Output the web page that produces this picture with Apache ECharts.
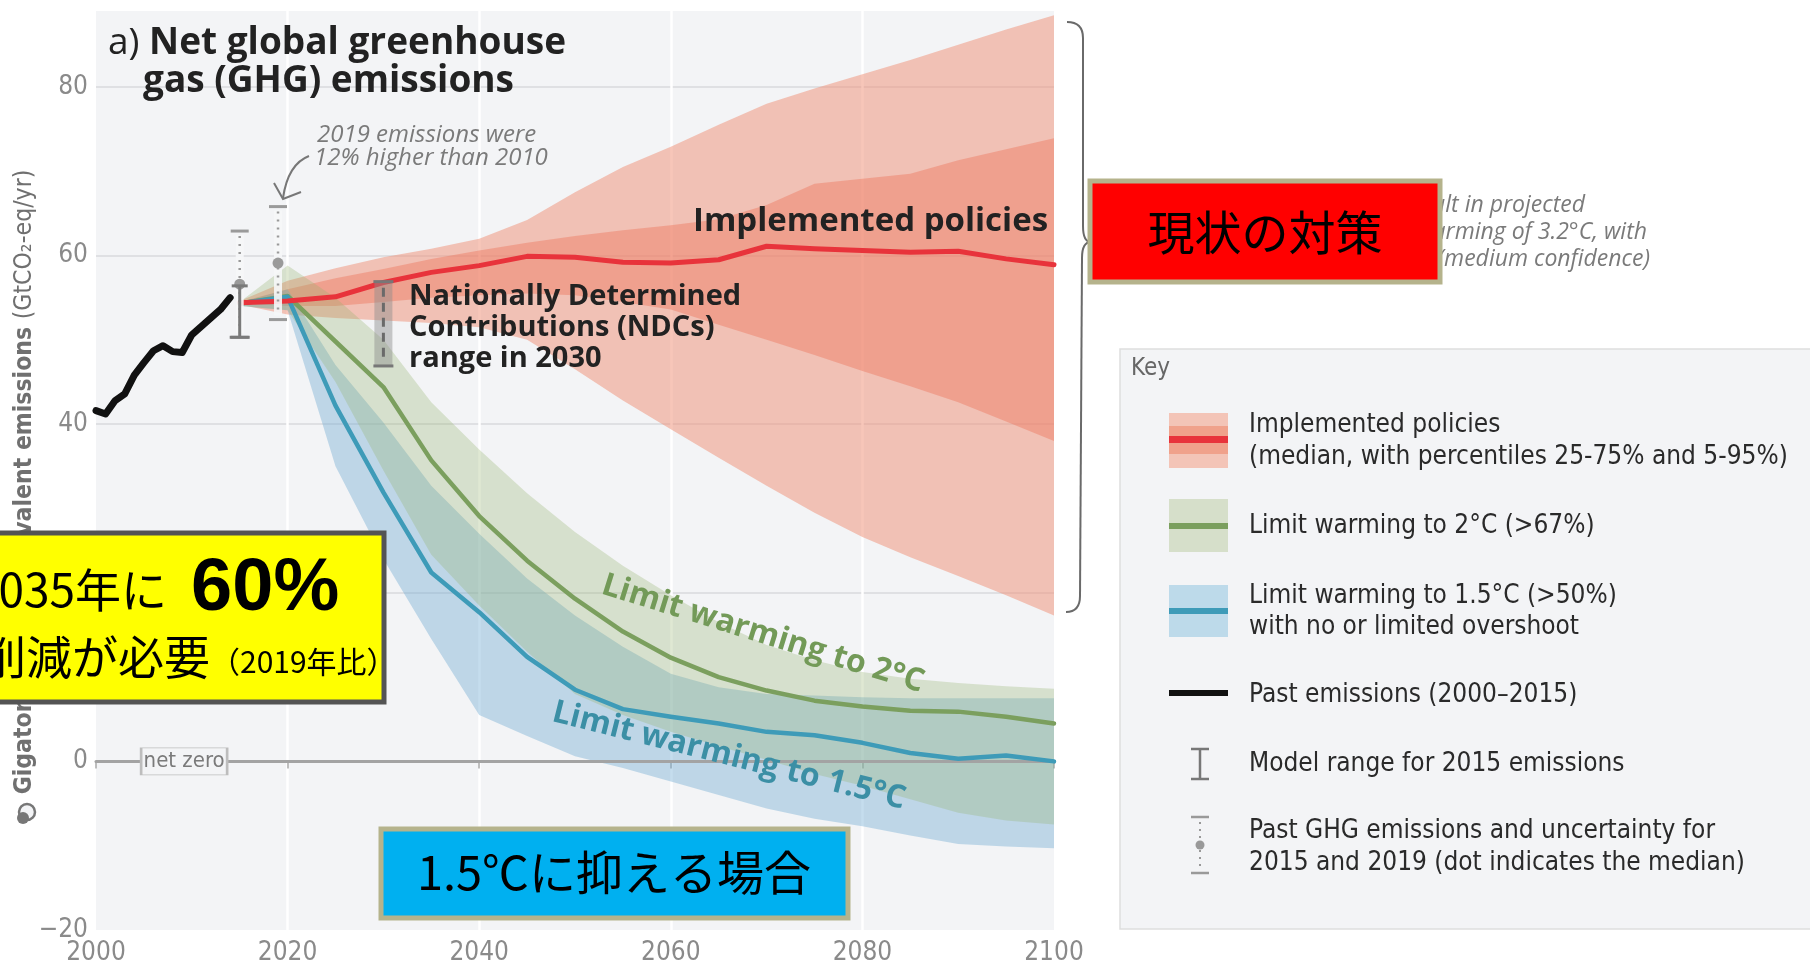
<!DOCTYPE html>
<html>
<head>
<meta charset="utf-8">
<title>Net global greenhouse gas (GHG) emissions</title>
<script src="https://cdn.jsdelivr.net/npm/echarts@6/dist/echarts.min.js"></script>
<style>
  html, body { margin: 0; padding: 0; background: #fff; }
  #main { width: 1810px; height: 969px; }
</style>
</head>
<body>
<div id="main"></div>
<script>
// --- data ---
const years = [2015, 2020, 2025, 2030, 2035, 2040, 2045, 2050, 2055, 2060, 2065, 2070, 2075, 2080, 2085, 2090, 2095, 2100];

// implemented policies: median + percentiles
const redP05 = [54.2, 53.0, 52.6, 52.3, 52.0, 51.5, 50.0, 46.5, 42.8, 39.4, 36.0, 32.7, 29.5, 26.6, 24.2, 22.0, 19.7, 17.3];
const redP25 = [54.3, 54.0, 54.0, 54.5, 55.0, 55.3, 55.5, 55.3, 54.5, 53.6, 51.8, 50.0, 48.2, 46.3, 44.5, 42.6, 40.3, 38.0];
const redMed = [54.4, 54.6, 55.1, 56.8, 58.0, 58.8, 59.9, 59.8, 59.2, 59.1, 59.5, 61.1, 60.8, 60.6, 60.4, 60.5, 59.6, 58.9];
const redP75 = [54.5, 56.0, 57.3, 58.4, 59.6, 60.6, 61.5, 62.3, 63.0, 63.6, 64.3, 66.0, 68.5, 69.1, 69.7, 71.3, 72.6, 73.9];
const redP95 = [54.6, 57.0, 58.5, 59.8, 60.8, 62.0, 64.2, 67.5, 70.5, 72.9, 75.5, 78.0, 79.8, 81.5, 83.2, 85.0, 86.8, 88.5];

// limit warming to 2°C
const greenLo  = [54.0, 53.5, 45.0, 34.5, 24.5, 18.5, 13.0, 8.0, 5.5, 3.5, 1.8, 0.2, -1.5, -2.9, -4.5, -6.1, -7.0, -7.5];
const greenMed = [54.3, 55.2, 49.8, 44.4, 35.7, 29.1, 23.8, 19.3, 15.4, 12.3, 10.0, 8.4, 7.2, 6.5, 6.0, 5.9, 5.3, 4.5];
const greenHi  = [54.5, 58.8, 55.0, 50.0, 42.6, 37.0, 31.8, 27.2, 23.2, 19.7, 16.5, 13.8, 12.0, 10.6, 9.8, 9.3, 8.9, 8.6];

// limit warming to 1.5°C
const blueLo  = [54.0, 53.5, 35.0, 24.0, 14.5, 5.5, 3.0, 0.6, -0.8, -2.4, -4.0, -5.6, -6.8, -7.7, -8.8, -9.8, -10.1, -10.3];
const blueMed = [54.3, 55.1, 42.2, 31.9, 22.4, 17.7, 12.4, 8.5, 6.2, 5.3, 4.5, 3.5, 3.1, 2.2, 1.0, 0.3, 0.7, 0.0];
const blueHi  = [54.4, 56.0, 47.0, 40.2, 32.7, 27.0, 21.7, 17.3, 13.6, 10.4, 8.8, 8.0, 7.8, 7.6, 7.5, 7.5, 7.5, 7.5];

// past emissions 2000-2015
const pastYears = [2000, 2001, 2002, 2003, 2004, 2005, 2006, 2007, 2008, 2009, 2010, 2011, 2012, 2013, 2014];
const pastEm = [41.6, 41.2, 42.8, 43.6, 45.8, 47.3, 48.7, 49.3, 48.6, 48.5, 50.6, 51.6, 52.6, 53.6, 55.0];

// uncertainty bars: [year, low, median, high]
const pastRange = [[2015, 50.3, 56.6, 62.9], [2019, 52.4, 59.1, 65.8]];
const modelRange = [[2015, 50.3, 56.4]];
const ndcRange = [[2030, 46.9, 56.9]];

const netZero = [[2000, 0], [2100, 0]];

// axis ticks
const xTicks = { min: 2000, max: 2100, step: 20 };
const yTicks = { min: -20, max: 89, step: 20 };

// --- fonts ---
const NARROW = '"Liberation Sans Narrow", "DejaVu Sans Condensed", sans-serif';
const BOLD = '"Open Sans", Lato, sans-serif';
const HAND = '"Open Sans", "DejaVu Sans", sans-serif';
const JP = '"Noto Sans CJK JP", sans-serif';

const myChart = echarts.init(document.getElementById('main'));

// 帯（上下の線で囲んだ多角形）
function band(name, lo, hi, color) {
  return {
    type: 'custom',
    name: name,
    silent: true,
    z: 2,
    encode: { x: 0, y: [1, 2] },
    data: years.map((y, i) => [y, lo[i], hi[i]]),
    renderItem: function (params, api) {
      if (params.dataIndex !== 0) return null;
      const top = years.map((y, i) => api.coord([y, hi[i]]));
      const bot = years.map((y, i) => api.coord([y, lo[i]])).reverse();
      return { type: 'polygon', shape: { points: top.concat(bot) }, style: { fill: color } };
    }
  };
}

function line(name, xs, ys, color, width, z) {
  return {
    type: 'line',
    name: name,
    silent: true,
    z: z,
    showSymbol: false,
    symbol: 'none',
    data: xs.map((x, i) => [x, ys[i]]),
    lineStyle: { color: color, width: width, join: 'round', cap: 'round' }
  };
}

function cap(x, y, w, stroke, lw) {
  return { type: 'line', shape: { x1: x - w, y1: y, x2: x + w, y2: y }, style: { stroke: stroke, lineWidth: lw } };
}

let g = []; // graphic elements
function txt(x, y, text, o) {
  o = o || {};
  g.push({
    type: 'text', x: x, y: y, z: o.z || 100, rotation: o.rotation || 0,
    style: {
      text: text,
      fill: o.color || '#222',
      fontSize: o.size || 20,
      fontFamily: o.family || NARROW,
      fontWeight: o.weight || 'normal',
      fontStyle: o.style || 'normal',
      align: o.align || 'left', textAlign: o.align || 'left',
      verticalAlign: 'middle', textVerticalAlign: 'middle',
      rich: o.rich
    }
  });
}
function box(x, y, w, h, fill, stroke, lw, z) {
  g.push({ type: 'rect', z: z || 100, shape: { x: x, y: y, width: w, height: h },
           style: { fill: fill, stroke: stroke, lineWidth: lw } });
}
function seg(x1, y1, x2, y2, stroke, lw, dash) {
  g.push({ type: 'line', z: 100, shape: { x1: x1, y1: y1, x2: x2, y2: y2 }, style: { stroke: stroke, lineWidth: lw, lineDash: dash } });
}
function curve(x1, y1, cx, cy, x2, y2, stroke, lw) {
  g.push({ type: 'bezierCurve', z: 100, shape: { x1: x1, y1: y1, cpx1: cx, cpy1: cy, x2: x2, y2: y2 },
           style: { stroke: stroke, lineWidth: lw, fill: null } });
}

// title
txt(108, 43, '{r|a) }{b|Net global greenhouse}', { rich: {
  r: { fontFamily: BOLD, fontSize: 37, fontWeight: 'normal', fill: '#222', color: '#222' },
  b: { fontFamily: BOLD, fontSize: 37, fontWeight: 'bold', fill: '#222', color: '#222' } } });
txt(143, 81, 'gas (GHG) emissions', { family: BOLD, size: 37, weight: 'bold' });

// y axis name
txt(25, 482, '{b|Gigatons of CO₂-equivalent emissions }{r|(GtCO₂-eq/yr)}', { rotation: Math.PI / 2, align: 'center', rich: {
  b: { fontFamily: NARROW, fontSize: 24.5, fontWeight: 'bold', fill: '#707070', color: '#707070' },
  r: { fontFamily: NARROW, fontSize: 24.5, fontWeight: 'normal', fill: '#707070', color: '#707070' } } });
g.push({ type: 'circle', z: 100, shape: { cx: 27, cy: 812, r: 8 }, style: { fill: '#f3f4f6', stroke: '#777', lineWidth: 2.5 } });
g.push({ type: 'circle', z: 100, shape: { cx: 23, cy: 818, r: 6 }, style: { fill: '#777' } });

// annotations inside the plot
txt(693, 222, 'Implemented policies', { family: BOLD, size: 33, weight: 'bold' });
txt(409, 297, 'Nationally Determined', { family: BOLD, size: 29, weight: 'bold' });
txt(409, 328, 'Contributions (NDCs)', { family: BOLD, size: 29, weight: 'bold' });
txt(409, 359, 'range in 2030', { family: BOLD, size: 29, weight: 'bold' });
txt(763, 634, 'Limit warming to 2°C', { family: BOLD, size: 32, weight: 'bold', color: '#739a58', align: 'center', rotation: -0.30 });
txt(729, 756, 'Limit warming to 1.5°C', { family: BOLD, size: 32, weight: 'bold', color: '#3b8fa5', align: 'center', rotation: -0.245 });

txt(317, 135, '2019 emissions were', { family: HAND, size: 24, style: 'italic', color: '#7a7a7a' });
txt(314, 158, '12% higher than 2010', { family: HAND, size: 24, style: 'italic', color: '#7a7a7a' });
curve(309, 156, 288, 164, 283, 198, '#777', 2);
g.push({ type: 'polyline', z: 100, shape: { points: [[274, 183], [283, 199], [301, 192]] },
         style: { stroke: '#777', lineWidth: 2, fill: null } });

// brace + warming note
curve(1067, 22, 1083, 22, 1083, 38, '#6a6a6a', 2);
seg(1083, 38, 1083, 226, '#6a6a6a', 2);
curve(1083, 226, 1083, 242, 1091, 242, '#6a6a6a', 2);
curve(1091, 242, 1082, 242, 1082, 258, '#6a6a6a', 2);
seg(1082, 258, 1080, 596, '#6a6a6a', 2);
curve(1080, 596, 1080, 612, 1066, 612, '#6a6a6a', 2);
txt(1585, 205, 'result in projected', { family: HAND, size: 23, style: 'italic', color: '#7a7a7a', align: 'right' });
txt(1647, 232, 'global warming of 3.2°C, with', { family: HAND, size: 23, style: 'italic', color: '#7a7a7a', align: 'right' });
txt(1650, 259, '(medium confidence)', { family: HAND, size: 23, style: 'italic', color: '#7a7a7a', align: 'right' });

// Japanese call-out boxes
box(1090, 181, 350, 101, '#ff0000', '#b5b38c', 5, 110);
txt(1265, 232, '現状の対策', { family: JP, size: 47, color: '#000', align: 'center', z: 111 });

box(-6, 533, 390, 169, '#ffff00', '#545454', 5, 110);
txt(-27, 590, '{a|2035年に}{b|60%}', { z: 111, rich: {
  a: { fontFamily: JP, fontSize: 46, fill: '#000', color: '#000' },
  b: { fontFamily: '"Liberation Sans", Arial, sans-serif', fontWeight: 'bold', fontSize: 74, fill: '#000', color: '#000', padding: [0, 0, 0, 24] } } });
txt(-20, 657, '{a|削減が必要}{s|（2019年比）}', { z: 111, rich: {
  a: { fontFamily: JP, fontSize: 46, fill: '#000', color: '#000' },
  s: { fontFamily: JP, fontSize: 30, fill: '#000', color: '#000', padding: [10, 0, 0, 0] } } });

box(381, 829, 467, 89, '#00b0f0', '#b5b38c', 5, 110);
txt(614, 872, '1.5℃に抑える場合', { family: JP, size: 47, color: '#000', align: 'center', z: 111 });

// key panel
box(1120, 349, 700, 580, '#f3f4f6', '#dedede', 1.5, 90);
txt(1131, 369, 'Key', { size: 24, color: '#666' });
[[413, 13, '#f3c4b7'], [426, 10, '#f0a18b'], [436, 7, '#e8333b'], [443, 11, '#f0a18b'], [454, 14, '#f3c4b7'],
 [499, 53, '#d6dfca'], [523, 6, '#7b9f5e'],
 [585, 52, '#bddaea'], [608, 6, '#3e9bb8'],
 [690, 6, '#111']].forEach(r => box(1169, r[0], 59, r[1], r[2], null, 0, 100));
seg(1200, 749, 1200, 779, '#777', 2.5);
seg(1191, 749, 1209, 749, '#777', 2.5);
seg(1191, 779, 1209, 779, '#777', 2.5);
seg(1200, 822, 1200, 868, '#999', 2, [2, 5]);
seg(1191, 817, 1209, 817, '#999', 2.5);
seg(1191, 873, 1209, 873, '#999', 2.5);
g.push({ type: 'circle', z: 100, shape: { cx: 1200, cy: 845, r: 4.5 }, style: { fill: '#999' } });
const keyText = [[425, 'Implemented policies'], [457, '(median, with percentiles 25-75% and 5-95%)'],
  [526, 'Limit warming to 2°C (>67%)'], [596, 'Limit warming to 1.5°C (>50%)'], [627, 'with no or limited overshoot'],
  [695, 'Past emissions (2000–2015)'], [764, 'Model range for 2015 emissions'],
  [831, 'Past GHG emissions and uncertainty for'], [863, '2015 and 2019 (dot indicates the median)']];
keyText.forEach(t => txt(1249, t[0], t[1], { size: 26, color: '#2a2a2a' }));

let option = {
  animation: false,
  grid: { left: 96, right: 756, top: 11, bottom: 39, show: true, backgroundColor: '#f3f4f6', borderWidth: 0 },
  xAxis: {
    type: 'value', min: xTicks.min, max: xTicks.max, interval: xTicks.step,
    axisLine: { lineStyle: { color: '#a9a9a9', width: 2 } },
    axisTick: { show: true, length: 7, lineStyle: { color: '#a9a9a9', width: 1.5 } },
    axisLabel: { color: '#8a8a8a', fontSize: 26, fontFamily: NARROW, margin: 10, formatter: v => String(v) },
    splitLine: { show: true, showMinLine: false, showMaxLine: false, lineStyle: { color: '#ffffff', width: 2.5 } }
  },
  yAxis: {
    type: 'value', min: yTicks.min, max: yTicks.max, interval: yTicks.step,
    axisLine: { show: false }, axisTick: { show: false },
    axisLabel: { color: '#8a8a8a', fontSize: 26, fontFamily: NARROW, margin: 8, showMaxLabel: false,
                 formatter: v => v < 0 ? '−' + Math.abs(v) : String(v) },
    splitLine: { show: true, showMinLine: false, showMaxLine: false, lineStyle: { color: '#d9dadc', width: 1.5 } }
  },
  series: [
    band('Implemented policies 5-95%', redP05, redP95, 'rgba(240,145,120,0.52)'),
    band('Implemented policies 25-75%', redP25, redP75, 'rgba(238,120,95,0.45)'),
    band('Limit warming to 1.5°C range', blueLo, blueHi, 'rgba(110,170,210,0.40)'),
    band('Limit warming to 2°C range', greenLo, greenHi, 'rgba(150,180,110,0.30)'),
    Object.assign(line('net zero', netZero.map(p => p[0]), netZero.map(p => p[1]), '#a3a3a3', 3, 3), {
      markPoint: {
        silent: true, symbol: 'rect', symbolSize: [86, 27],
        itemStyle: { color: '#f3f4f6', borderColor: '#bdbdbd', borderWidth: 1.5 },
        label: { show: true, position: 'inside', formatter: 'net zero', color: '#7a7a7a', fontSize: 22, fontFamily: NARROW },
        data: [{ coord: [2009.2, 0] }]
      }
    }),
    line('Limit warming to 2°C', years, greenMed, '#7b9f5e', 4.5, 4),
    line('Limit warming to 1.5°C', years, blueMed, '#3e9bb8', 4.5, 4),
    line('Implemented policies', years, redMed, '#e8333b', 5, 5),
    line('Past emissions', pastYears, pastEm, '#111111', 7, 5),
    {
      type: 'custom', name: 'Past GHG emissions', z: 6, silent: true,
      encode: { x: 0, y: [1, 2, 3] },
      data: pastRange,
      renderItem: function (params, api) {
        const x = api.value(0);
        const lo = api.coord([x, api.value(1)]);
        const mid = api.coord([x, api.value(2)]);
        const hi = api.coord([x, api.value(3)]);
        const cx = lo[0];
        return { type: 'group', children: [
          { type: 'rect', shape: { x: cx - 4, y: hi[1] + 4, width: 8, height: lo[1] - hi[1] - 8 }, style: { fill: 'rgba(246,247,248,0.9)' } },
          { type: 'line', shape: { x1: cx, y1: hi[1] + 5, x2: cx, y2: lo[1] - 5 }, style: { stroke: '#9a9a9a', lineWidth: 2.5, lineDash: [2, 6] } },
          cap(cx, hi[1], 9, '#9a9a9a', 3),
          cap(cx, lo[1], 9, '#9a9a9a', 3),
          { type: 'circle', shape: { cx: cx, cy: mid[1], r: 5.5 }, style: { fill: '#9a9a9a' } }
        ] };
      }
    },
    {
      type: 'custom', name: 'Model range 2015', z: 6, silent: true,
      encode: { x: 0, y: [1, 2] },
      data: modelRange,
      renderItem: function (params, api) {
        const x = api.value(0);
        const lo = api.coord([x, api.value(1)]);
        const hi = api.coord([x, api.value(2)]);
        const cx = lo[0];
        return { type: 'group', children: [
          { type: 'line', shape: { x1: cx, y1: hi[1], x2: cx, y2: lo[1] }, style: { stroke: '#7a7a7a', lineWidth: 3 } },
          cap(cx, hi[1], 8, '#7a7a7a', 3),
          cap(cx, lo[1], 10, '#7a7a7a', 3)
        ] };
      }
    },
    {
      type: 'custom', name: 'NDCs range 2030', z: 6, silent: true,
      encode: { x: 0, y: [1, 2] },
      data: ndcRange,
      renderItem: function (params, api) {
        const x = api.value(0);
        const lo = api.coord([x, api.value(1)]);
        const hi = api.coord([x, api.value(2)]);
        const cx = lo[0];
        return { type: 'group', children: [
          { type: 'rect', shape: { x: cx - 9, y: hi[1], width: 18, height: lo[1] - hi[1] }, style: { fill: 'rgba(140,140,140,0.45)' } },
          { type: 'line', shape: { x1: cx, y1: hi[1] + 6, x2: cx, y2: lo[1] - 4 }, style: { stroke: '#6a6a6a', lineWidth: 3, lineDash: [9, 6] } },
          cap(cx, hi[1], 10, '#777', 3),
          cap(cx, lo[1], 10, '#777', 3)
        ] };
      }
    }
  ],
  graphic: { elements: g }
};

myChart.setOption(option);
</script>
</body>
</html>
